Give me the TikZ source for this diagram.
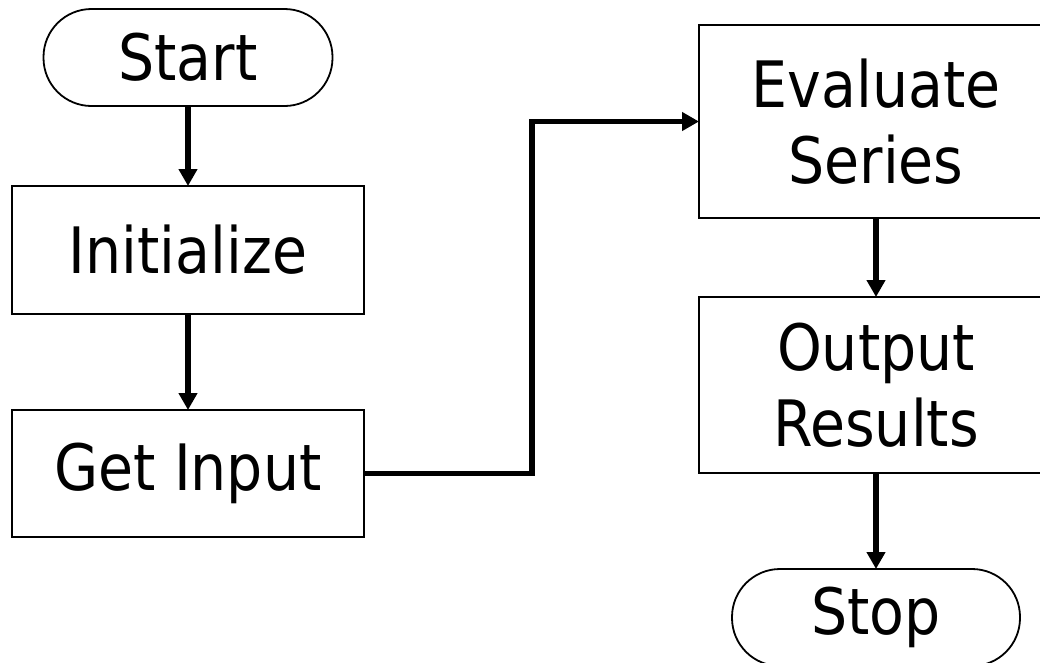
\documentclass[tikz,border=0pt]{standalone}
\usepackage{fontspec}
\setmainfont{DejaVu Sans}[FakeStretch=0.89]
\usetikzlibrary{arrows.meta}
\begin{document}
\begin{tikzpicture}[x=1pt,y=-1pt,
  box/.style={draw, line width=2.8pt, outer sep=0pt, inner sep=0pt, align=center,
    font=\fontsize{64}{76}\selectfont},
  term/.style={box, line width=1.8pt, rounded corners=48pt},
  conn/.style={line width=5.5pt, -{Triangle[length=17pt,width=18pt]}}
]
\clip (0,0) rectangle (1040,662);
\useasboundingbox (0,0) rectangle (1040,662);
\node[term, minimum width=289pt, minimum height=97pt] (start) at (188,57.5) {Start};
\node[box, minimum width=352pt, minimum height=128pt] (init) at (188,250) {Initialize};
\node[box, minimum width=352pt, minimum height=127pt] (gi) at (188,473.5) {Get Input};
\node[box, minimum width=354pt, minimum height=193pt] (ev) at (876,121.5) {Evaluate\\Series};
\node[box, minimum width=354pt, minimum height=176pt] (out) at (876,385) {Output\\Results};
\node[term, minimum width=288pt, minimum height=97pt] (stop) at (876,617.5) {Stop};
\coordinate (m) at (532,0);
\draw[conn] (start) -- (init);
\draw[conn] (init) -- (gi);
\draw[conn] (gi.east) -| (m |- ev.west) -- (ev.west);
\draw[conn] (ev) -- (out);
\draw[conn] (out) -- (stop);
\end{tikzpicture}
\end{document}
